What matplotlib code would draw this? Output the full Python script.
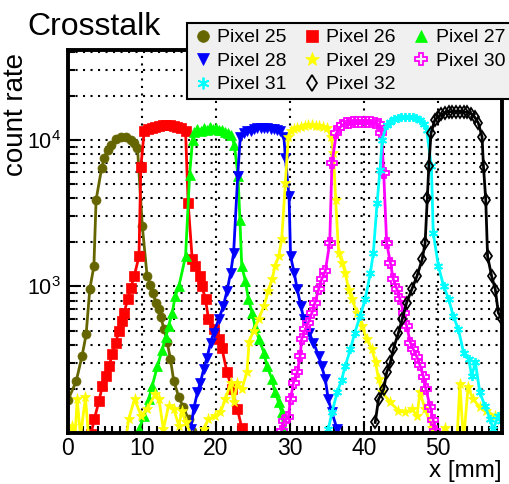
import matplotlib
matplotlib.use("Agg")
from matplotlib import pyplot as plt
from matplotlib.lines import Line2D
from matplotlib.ticker import FixedLocator, LogLocator, NullFormatter, LogFormatterMathtext, MultipleLocator

plt.rcParams["font.family"] = ["Liberation Sans", "DejaVu Sans"]
plt.rcParams["mathtext.fontset"] = "custom"
plt.rcParams["mathtext.rm"] = "Liberation Sans"
plt.rcParams["mathtext.default"] = "regular"

# ---- data ----
x25 = [0.0, 1.1, 1.9, 2.45, 2.95, 3.5, 3.8, 4.55, 4.9, 5.35, 5.8, 6.45, 7.15, 7.8, 8.5, 8.95, 9.4,
       10.05, 10.7, 11.15, 11.45, 11.9, 12.3, 12.55, 13.0, 13.4, 13.85, 14.3, 15.0, 15.6, 16.3, 16.8]
y25 = [168, 225, 335, 470, 960, 1370, 3900, 6400, 7500, 8550, 9250, 10100, 10500, 10400, 10000, 9500, 8800,
       2570, 1175, 1030, 905, 775, 700, 615, 510, 420, 320, 227, 175, 150, 124, 103]

x26 = [3.1, 3.55, 4.2, 4.65, 5.1, 5.55, 6.0, 6.45, 6.9, 7.25, 7.6, 8.05, 8.5, 8.95, 9.6, 9.85, 10.3,
       10.8, 11.3, 11.8, 12.3, 12.8, 13.3, 13.8, 14.3, 14.8, 15.3, 15.9, 16.25, 16.8, 17.2, 17.8, 18.1,
       18.6, 19.0, 19.7, 20.4, 20.8, 21.5, 22.2, 22.9, 23.5, 23.8]
y26 = [98, 124, 166, 210, 245, 287, 344, 414, 497, 580, 660, 815, 980, 1175, 1600, 6500, 11400,
       11900, 12100, 12300, 12400, 12600, 12650, 12600, 12500, 12300, 12100, 11500, 3700, 1530, 1375, 1175, 1005,
       815, 600, 510, 436, 383, 259, 199, 146, 109, 95]

x27 = [9.6, 10.3, 10.9, 11.4, 12.1, 12.75, 13.2, 13.6, 14.1, 14.5, 15.0, 15.9, 16.45, 16.85,
       17.0, 17.5, 18.0, 18.4, 18.8, 19.2, 19.6, 20.0, 20.4, 20.8, 21.2, 21.6, 22.0, 22.5, 23.0,
       23.25, 23.5, 24.0, 24.4, 24.9, 25.3, 25.8, 26.5, 26.9, 27.6, 28.0, 28.5, 28.9, 29.2, 29.4]
y27 = [106, 131, 170, 210, 287, 370, 450, 537, 662, 859, 1005, 1607, 5800, 10000,
       11300, 11800, 11500, 12100, 11700, 12200, 11800, 12000, 11600, 11700, 11300, 11200, 10800, 9250, 5630,
       2860, 1374, 1087, 817, 662, 530, 440, 354, 287, 233, 189, 162, 138, 106, 95]

x28 = [16.6, 17.0, 17.5, 17.9, 18.35, 18.8, 19.3, 19.7, 20.4, 21.0, 21.5, 22.0, 22.4, 22.95, 23.3,
       23.8, 24.2, 24.7, 25.2, 25.6, 26.1, 26.5, 26.9, 27.4, 27.8, 28.3, 28.7, 29.2, 29.4, 29.9, 30.1,
       30.6, 31.0, 31.5, 31.9, 32.6, 33.2, 33.9, 34.3, 34.8, 35.2, 35.7, 36.4, 36.6]
y28 = [106, 146, 189, 221, 272, 327, 414, 484, 597, 735, 929, 1240, 1694, 5630, 10500,
       11100, 11400, 11500, 11800, 12000, 12000, 12100, 12000, 11900, 11800, 11600, 11400, 10500, 7500, 4110, 1607,
       1240, 955, 735, 597, 484, 414, 336, 287, 233, 170, 138, 106, 95]

x29 = [0.1, 0.57, 0.9, 1.24, 1.7, 2.36, 2.8, 3.5, 5.0, 6.5, 7.7, 8.2, 9.0, 9.9, 10.7, 11.8, 12.3, 12.9,
       13.6, 14.3, 15.0, 15.4, 15.9, 16.8, 17.6, 18.35, 19.0, 19.9, 20.6, 21.3, 22.0, 22.4, 22.9, 23.5,
       24.2, 24.5, 25.1, 25.8, 26.5, 27.1, 27.6, 28.0, 28.5, 28.9, 29.4, 29.8, 30.2, 30.6, 31.0, 31.5,
       32.0, 32.5, 33.0, 33.5, 34.0, 34.5, 35.0, 35.6, 35.9, 36.2, 36.6, 37.1, 37.5, 37.95, 38.4, 39.1,
       39.8, 40.4, 41.1, 41.6, 42.0, 42.5, 43.6, 44.7, 45.6, 46.5, 47.2, 47.6, 48.3, 49.2, 50.1, 51.0,
       52.0, 52.6, 53.0, 53.5, 54.1, 54.8, 55.7, 56.6, 57.8, 58.3]
y29 = [85, 112, 85, 170, 95, 175, 92, 70, 60, 65, 80, 124, 170, 131, 146, 184, 170, 106,
       153, 146, 112, 142, 118, 95, 92, 106, 124, 131, 138, 170, 221, 162, 221, 199,
       259, 420, 500, 600, 735, 929, 1116, 1374, 1607, 2090, 5080, 10500, 11500, 11800, 12100, 12300,
       12500, 12650, 12600, 12500, 12400, 12200, 12000, 10500, 8100, 3900, 1694, 1450, 1240, 950, 817, 662,
       537, 436, 373, 303, 233, 189, 162, 142, 138, 146, 131, 189, 146, 109, 90, 109,
       90, 88, 215, 88, 205, 170, 150, 142, 130, 128]

x30 = [28.9, 29.2, 29.8, 30.1, 30.5, 31.0, 31.4, 31.6, 32.1, 32.5, 33.0, 33.4, 33.9, 34.3, 34.8, 35.4,
       35.7, 36.3, 36.7, 37.1, 37.6, 38.0, 38.5, 39.0, 39.5, 40.0, 40.5, 41.0, 41.5, 42.0, 42.4, 42.7,
       43.1, 43.6, 44.0, 44.5, 44.9, 45.4, 45.8, 46.3, 46.7, 47.2, 47.6, 48.1, 48.4, 49.0, 49.4, 49.7]
y30 = [104, 121, 128, 170, 221, 259, 336, 436, 510, 566, 662, 774, 955, 1116, 1272, 1980,
       6950, 11100, 12000, 12600, 13000, 13100, 13200, 13300, 13300, 13300, 13300, 13200, 13100, 12800, 11100, 5930,
       1980, 1450, 1116, 955, 817, 662, 537, 414, 373, 330, 290, 240, 200, 150, 122, 104]

x31 = [35.2, 35.7, 36.4, 37.0, 37.5, 38.2, 38.8, 39.5, 40.2, 40.9, 41.3, 41.8, 42.2, 42.5, 43.1, 43.6,
       44.1, 44.6, 45.1, 45.6, 46.1, 46.6, 47.1, 47.6, 48.1, 48.5, 49.15, 49.4, 50.1, 50.8, 51.5, 52.1,
       52.8, 53.5, 54.2, 54.6, 55.1, 55.7, 56.4, 57.1, 57.5, 58.2, 58.6]
y31 = [106, 138, 189, 230, 287, 373, 484, 628, 817, 1240, 1694, 3700, 6250, 10000, 12650, 13300,
       13800, 14100, 14300, 14400, 14400, 14300, 14100, 13600, 12800, 11700, 6580, 2320, 1374, 1005, 817, 628,
       510, 354, 318, 245, 303, 189, 153, 124, 106, 131, 120]

x32 = [41.55, 42.0, 42.7, 43.1, 43.6, 44.0, 44.7, 45.2, 45.8, 46.5, 47.2, 47.9, 48.3, 48.6, 48.8, 49.1,
       49.6, 50.0, 50.5, 51.0, 51.5, 52.0, 52.5, 53.0, 53.5, 54.0, 54.5, 55.0, 55.5, 56.0, 56.2, 56.5,
       56.75, 57.3, 57.8, 58.2, 58.7]
y32 = [118, 170, 199, 259, 303, 373, 484, 597, 774, 955, 1175, 1527, 1980, 4000, 6580, 11100,
       13600, 14300, 14900, 15300, 15500, 15600, 15600, 15600, 15500, 15400, 15100, 14300, 13000, 10500, 6500, 3900,
       1600, 1175, 950, 660, 600]

labels = ["Pixel 25", "Pixel 26", "Pixel 27", "Pixel 28", "Pixel 29", "Pixel 30", "Pixel 31", "Pixel 32"]
colors = ["#666600", "#ff0000", "#00ff00", "#0000ff", "#ffff00", "#ff00ff", "#00ffff", "#000000"]
markers = ["o", "s", "^", "v", "*", "P", (6, 2, 0), "d"]
hollow = [False, False, False, False, False, True, False, True]
series = [(x25, y25), (x26, y26), (x27, y27), (x28, y28), (x29, y29), (x30, y30), (x31, y31), (x32, y32)]

fig = plt.figure(figsize=(5.09, 4.84), dpi=100)
ax = fig.add_axes([68 / 509, 1 - 433 / 484, (502 - 68) / 509, (433 - 50) / 484])

handles = []
for (xs, ys), lab, c, m, h in zip(series, labels, colors, markers, hollow):
    ms = 8 if m == "*" else 6.5
    kw = dict(color=c, marker=m, ms=ms, mec=c, mfc="none" if h else c, mew=1.3 if (h or m == (6, 2, 0)) else 0.5)
    ax.plot(xs, ys, lw=2, **kw)
    handles.append(Line2D([], [], ls="none", **kw))

ax.set_yscale("log")
ax.set_xlim(0, 58.7)
ax.set_ylim(100, 41000)

ax.yaxis.set_major_locator(FixedLocator([1e3, 1e4]))
ax.yaxis.set_major_formatter(LogFormatterMathtext())
ax.yaxis.set_minor_locator(LogLocator(base=10, subs=range(2, 10)))
ax.yaxis.set_minor_formatter(NullFormatter())
ax.xaxis.set_major_locator(MultipleLocator(10))
ax.xaxis.set_minor_locator(MultipleLocator(1))

grid_kw = dict(color="black", lw=1.5, ls=(0, (1, 2.6)))
ax.grid(True, which="major", axis="x", **grid_kw)
ax.grid(True, which="both", axis="y", **grid_kw)
ax.set_axisbelow(True)

for s in ax.spines.values():
    s.set_linewidth(2.8)
ax.tick_params(which="both", direction="in", labelsize=15.5, width=1.5)
ax.tick_params(which="major", length=9, pad=5)
ax.tick_params(axis="x", which="major", pad=3, labelsize=16.5)
ax.tick_params(which="minor", length=5)

ax.set_xlabel("x [mm]", fontsize=17.5, loc="right", labelpad=0)
fig.text(16 / 509, 1 - 53 / 484, "count rate", fontsize=20, rotation=90, ha="center", va="top")

fig.text(27 / 509, 1 - 35 / 484, "Crosstalk", fontsize=23, va="baseline")

order = [0, 3, 6, 1, 4, 7, 2, 5]
leg = fig.legend([handles[i] for i in order], [labels[i] for i in order], ncol=3,
                 loc="upper left", bbox_to_anchor=(187 / 509, 1 - 23 / 484), borderaxespad=0, fontsize=14,
                 frameon=True, fancybox=False, facecolor="#f0f0f0", edgecolor="black", framealpha=1,
                 handlelength=1.0, handletextpad=0.25, columnspacing=0.8, labelspacing=0.3,
                 borderpad=0.3, markerscale=1.3)
leg.get_frame().set_linewidth(1.5)

plt.savefig("out.png", dpi=100)
